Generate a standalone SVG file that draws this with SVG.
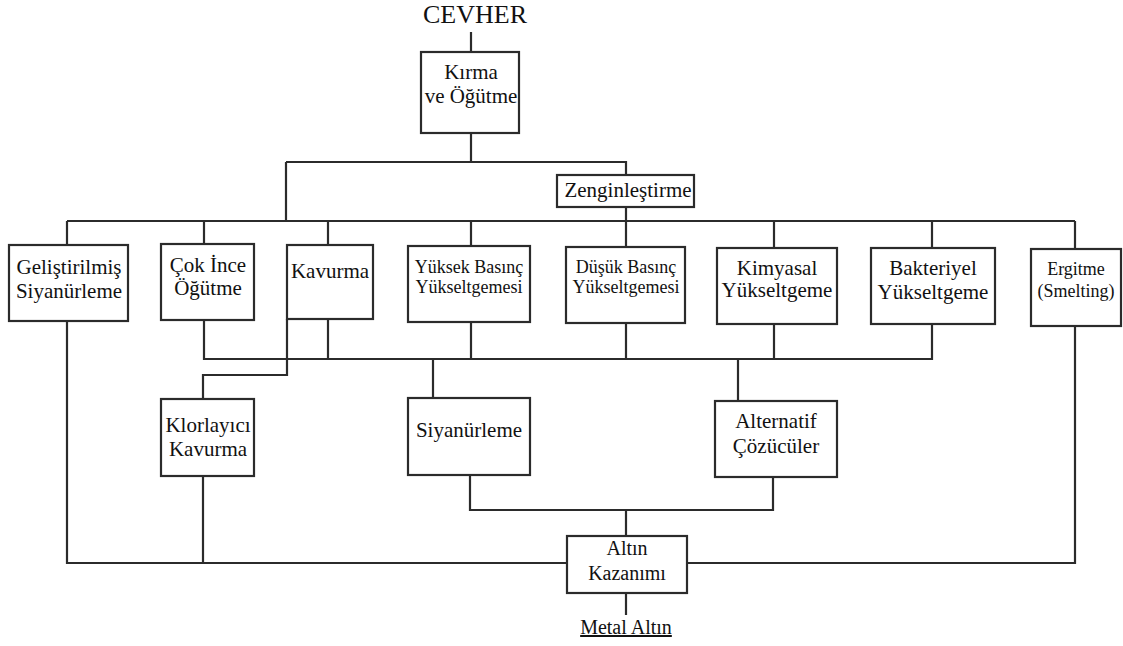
<svg xmlns="http://www.w3.org/2000/svg" width="1123" height="646" viewBox="0 0 1123 646">
<style>
.box{fill:#fff;stroke:#2b2b2b;stroke-width:2.2}
.ln{fill:none;stroke:#2b2b2b;stroke-width:2.2;stroke-linejoin:miter}
text{font-family:'Liberation Serif','Times New Roman','DejaVu Serif',serif;font-size:21px;fill:#111;text-anchor:middle}
.sm{font-size:18px}
</style>
<rect width="1123" height="646" fill="#fff"/>
<g id="connectors">
<path class="ln" d="M471 32V52"/>
<path class="ln" d="M471 133V162M286 162H626V176M286 162V221"/>
<path class="ln" d="M626 207V221M67 221H1075"/>
<path class="ln" d="M67 221V245M204 221V245M328 221V245M471 221V246M626 221V247M774 221V248M932 221V248M1075 221V249"/>
<path class="ln" d="M204 320V359H932V324M328 319V359M471 322V359M626 323V359M774 324V359"/>
<path class="ln" d="M287 319V375H203V399"/>
<path class="ln" d="M433 359V398M738 359V401"/>
<path class="ln" d="M470 475V510H773V477M626 510V536"/>
<path class="ln" d="M67 321V563H567M203 476V563M687 563H1075V326"/>
<path class="ln" d="M626 593V615"/>
</g>
<g font-family="Liberation Serif, serif">
<g id="cevher"><text x="475" y="23" style="font-size:26px">CEVHER</text></g>
<g id="kirma"><rect class="box" x="421" y="52" width="98" height="81"/><text x="471" y="79">Kırma</text><text x="471" y="103">ve Öğütme</text></g>
<g id="zenginlestirme"><rect class="box" x="557" y="175" width="137" height="32"/><text x="628" y="197">Zenginleştirme</text></g>
<g id="gelistirilmis"><rect class="box" x="9" y="245" width="119" height="76"/><text x="69" y="274">Geliştirilmiş</text><text x="69" y="298">Siyanürleme</text></g>
<g id="cokince"><rect class="box" x="161" y="244" width="93" height="76"/><text x="208" y="272">Çok İnce</text><text x="208" y="295">Öğütme</text></g>
<g id="kavurma"><rect class="box" x="287" y="245" width="86" height="74"/><text x="330" y="278">Kavurma</text></g>
<g id="yuksek"><rect class="box" x="408" y="246" width="122" height="76"/><text class="sm" x="469" y="273">Yüksek Basınç</text><text class="sm" x="469" y="293">Yükseltgemesi</text></g>
<g id="dusuk"><rect class="box" x="566" y="247" width="119" height="76"/><text class="sm" x="626" y="273">Düşük Basınç</text><text class="sm" x="626" y="293">Yükseltgemesi</text></g>
<g id="kimyasal"><rect class="box" x="717" y="248" width="120" height="76"/><text x="777" y="275">Kimyasal</text><text x="777" y="297">Yükseltgeme</text></g>
<g id="bakteriyel"><rect class="box" x="871" y="248" width="124" height="76"/><text x="933" y="275">Bakteriyel</text><text x="933" y="299">Yükseltgeme</text></g>
<g id="ergitme"><rect class="box" x="1031" y="249" width="90" height="77"/><text class="sm" x="1076" y="275">Ergitme</text><text class="sm" x="1076" y="297">(Smelting)</text></g>
<g id="klorlayici"><rect class="box" x="161" y="399" width="93" height="77"/><text x="208" y="432">Klorlayıcı</text><text x="208" y="456">Kavurma</text></g>
<g id="siyanurleme"><rect class="box" x="408" y="398" width="122" height="77"/><text x="469" y="437">Siyanürleme</text></g>
<g id="alternatif"><rect class="box" x="715" y="401" width="122" height="76"/><text x="776" y="428">Alternatif</text><text x="776" y="453">Çözücüler</text></g>
<g id="altin"><rect class="box" x="567" y="536" width="120" height="57"/><text x="627" y="555" style="font-size:20px">Altın</text><text x="627" y="580" style="font-size:20px">Kazanımı</text></g>
<g id="metal"><text x="626" y="634" style="text-decoration:underline;font-size:20px">Metal Altın</text></g>
</g>
</svg>
